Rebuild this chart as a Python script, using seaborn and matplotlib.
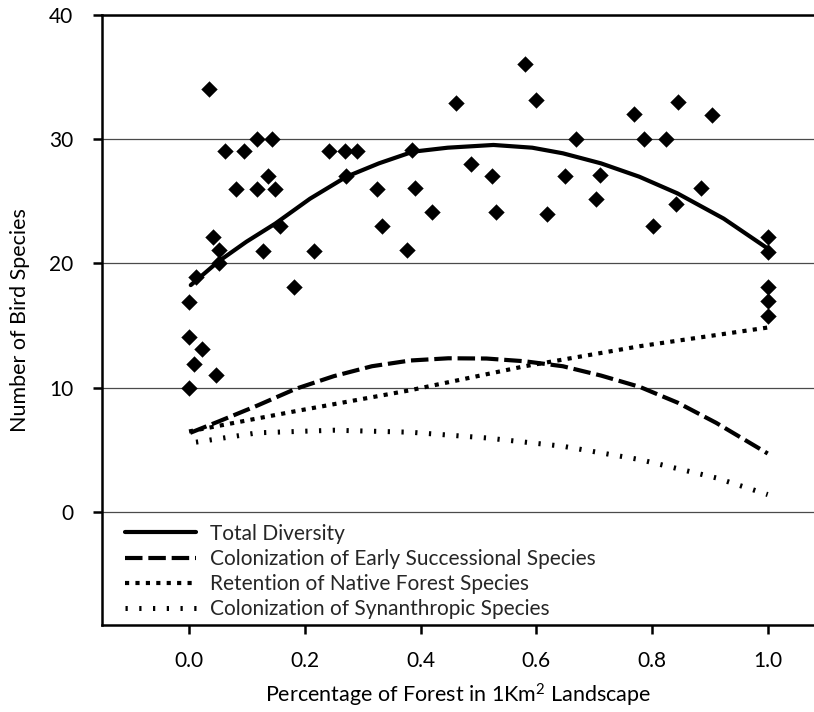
import numpy as np
import pandas as pd
import matplotlib
matplotlib.use("Agg")
import matplotlib.pyplot as plt
import seaborn as sns

# %% data

# survey points (percentage of forest, number of species)
pt_x = [0.035, 0.062, 0.095, 0.117, 0.144, 0.241, 0.269, 0.137, 0.082, 0.117,
        0.149, 0.271, 0.157, 0.042, 0.051, 0.128, 0.216, 0.051, 0.012, 0.181,
        0.000, 0.000, 0.023, 0.009, 0.046, 0.000,
        0.291, 0.386, 0.324, 0.390, 0.334, 0.419, 0.376, 0.461, 0.487, 0.524,
        0.531, 0.581, 0.600, 0.668, 0.649, 0.619,
        0.845, 0.769, 0.904, 0.786, 0.824, 0.711, 0.704, 0.885, 0.841, 0.801,
        1.000, 1.000, 1.000, 1.000, 1.000]
pt_y = [34.0, 29.0, 29.0, 30.0, 30.0, 29.0, 29.0, 27.0, 26.0, 26.0,
        26.0, 27.0, 23.0, 22.1, 21.1, 21.0, 21.0, 20.0, 18.9, 18.1,
        16.9, 14.1, 13.1, 11.9, 11.0, 10.0,
        29.0, 29.1, 26.0, 26.1, 23.0, 24.1, 21.1, 32.9, 28.0, 27.0,
        24.1, 36.0, 33.1, 30.0, 27.0, 24.0,
        33.0, 32.0, 31.9, 30.0, 30.0, 27.1, 25.2, 26.1, 24.8, 23.0,
        22.15, 20.95, 18.1, 17.0, 15.8]

# fitted curves
total_x = [0.003, 0.05, 0.099, 0.149, 0.209, 0.272, 0.328, 0.387, 0.447, 0.526,
           0.593, 0.646, 0.712, 0.778, 0.844, 0.924, 1.0]
total_y = [18.26, 20.13, 21.74, 23.2, 25.2, 26.97, 28.04, 28.98, 29.3, 29.52,
           29.3, 28.85, 28.04, 26.97, 25.63, 23.6, 21.2]

early_x = [0.002, 0.052, 0.118, 0.184, 0.25, 0.316, 0.382, 0.448, 0.514, 0.58,
           0.646, 0.712, 0.779, 0.845, 0.911, 1.0]
early_y = [6.39, 7.32, 8.58, 9.92, 10.94, 11.74, 12.2, 12.38, 12.36, 12.14,
           11.74, 10.99, 10.08, 8.8, 7.19, 4.73]

native_x = [0.0, 0.184, 0.382, 0.58, 0.779, 1.0]
native_y = [6.5, 8.13, 9.81, 11.74, 13.35, 14.85]

synan_x = [0.012, 0.118, 0.25, 0.382, 0.514, 0.646, 0.779, 0.911, 1.0]
synan_y = [5.64, 6.39, 6.6, 6.44, 5.98, 5.31, 4.24, 2.77, 1.43]

labels = ['Total Diversity',
          'Colonization of Early Successional Species',
          'Retention of Native Forest Species',
          'Colonization of Synanthropic Species']

x_ticks = [0.0, 0.2, 0.4, 0.6, 0.8, 1.0]
y_ticks = [0, 10, 20, 30, 40]

# %% PLOT

sns.set_theme(style='white')
plt.rcParams['font.family'] = ['Lato', 'DejaVu Sans']
plt.rcParams['mathtext.default'] = 'regular'

fig = plt.figure(figsize=(8.14, 7.12), dpi=100)
ax = fig.add_axes([0.1249, 0.1222, 0.8751, 0.8574])

points = pd.DataFrame({'x': pt_x, 'y': pt_y})
sns.scatterplot(data=points, x='x', y='y', marker='D', s=64, color='black',
                edgecolor='black', linewidth=0.3, zorder=3, ax=ax)

curves = [(total_x, total_y, '-'),
          (early_x, early_y, (0, (4.2, 1.4))),
          (native_x, native_y, (0, (1.0, 1.5))),
          (synan_x, synan_y, (0, (0.45, 2.3)))]
widths = [3.0, 3.0, 3.0, 3.6]
handles = []
for (cx, cy, ls), lw, lab in zip(curves, widths, labels):
    sns.lineplot(x=cx, y=cy, sort=False, estimator=None, color='black',
                 linewidth=lw, ax=ax)
    line = ax.get_lines()[-1]
    line.set_linestyle(ls)
    line.set_dash_capstyle('butt')
    line.set_solid_joinstyle('round')
    line.set_label(lab)
    handles.append(line)

ax.set_xlim(-0.151, 1.08)
ax.set_ylim(-9.05, 40)
ax.set_xticks(x_ticks)
ax.set_xticklabels(['%.1f' % t for t in x_ticks])
ax.set_yticks(y_ticks)

ax.yaxis.grid(True, color='#4a4a4a', linewidth=0.9)
ax.set_axisbelow(True)

for side in ['left', 'bottom', 'top']:
    ax.spines[side].set_visible(True)
    ax.spines[side].set_color('black')
    ax.spines[side].set_linewidth(1.8)
ax.spines['right'].set_visible(False)

ax.tick_params(axis='both', which='major', bottom=True, left=True,
               direction='out', length=6.5, width=1.8, color='black',
               labelsize=15, labelcolor='black')
ax.tick_params(axis='x', pad=12)
ax.tick_params(axis='y', pad=14)

ax.set_xlabel('Percentage of Forest in 1Km$^2$ Landscape', fontsize=15.5,
              color='black', labelpad=8)
ax.set_ylabel('Number of Bird Species', fontsize=15.5, color='black',
              labelpad=14)

ax.legend(handles=handles, labels=labels, loc='upper left',
          bbox_to_anchor=(0.0327, 0.166), frameon=False, fontsize=15,
          handlelength=3.4, handletextpad=0.7, labelspacing=0.25,
          borderpad=0, borderaxespad=0)

plt.savefig('out.png', dpi=100)
plt.close()
